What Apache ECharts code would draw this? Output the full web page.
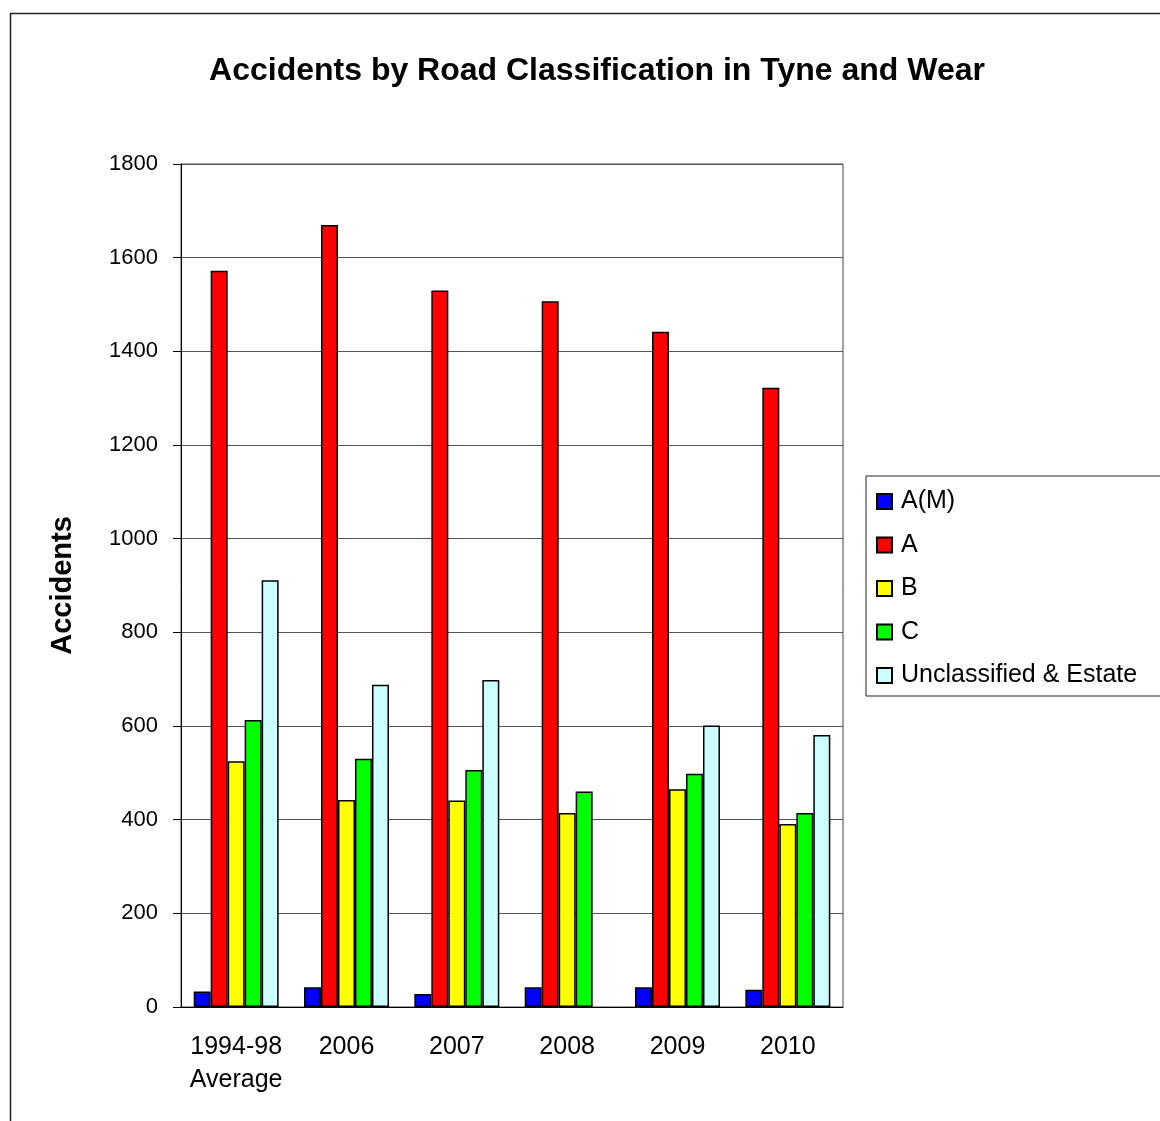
<html><head><meta charset='utf-8'>
<script src='https://cdn.jsdelivr.net/npm/echarts@6/dist/echarts.min.js'></script>
<style>body{margin:0;background:#fff}#chart{width:1160px;height:1121px}</style>
</head><body>
<div id='chart'></div>
<script>
// values
var categories = ['1994-98\nAverage', '2006', '2007', '2008', '2009', '2010']
var seriesNames = ['A(M)', 'A', 'B', 'C', 'Unclassified & Estate']
var valuesAM = [33, 42, 28, 42, 42, 37]
var valuesA = [1572, 1670, 1530, 1507, 1442, 1322]
var valuesB = [525, 442, 441, 414, 465, 391]
var valuesC = [613, 530, 506, 460, 498, 414]
var valuesU = [911, 688, 698, '-', 601, 581]
var colors = ['#0000ff', '#ff0000', '#ffff00', '#00ff00', '#ccffff']

var font = 'Liberation Sans, Arial, sans-serif'
var allValues = [valuesAM, valuesA, valuesB, valuesC, valuesU]

var chart = echarts.init(document.getElementById('chart'))
chart.setOption({
  animation: false,
  backgroundColor: '#fff',
  textStyle: { fontFamily: font, color: '#000' },
  title: {
    text: 'Accidents by Road Classification in Tyne and Wear',
    left: 592, top: 50, textAlign: 'center',
    textStyle: { fontFamily: font, fontSize: 32, fontWeight: 'bold', color: '#000' }
  },
  graphic: [{
    // outer chart border, runs off the right and bottom edge
    type: 'rect', left: 8, top: 11, silent: true,
    shape: { width: 1400, height: 1400 },
    style: { fill: 'none', stroke: '#222', lineWidth: 1.5 }
  }],
  legend: {
    orient: 'vertical', left: 866, top: 476,
    data: seriesNames,
    icon: 'rect', itemWidth: 15, itemHeight: 15, itemGap: 18.5,
    padding: [13, 60, 8, 10],
    borderColor: '#222', borderWidth: 1,
    textStyle: { fontFamily: font, fontSize: 25, color: '#000', lineHeight: 21, padding: [0, 0, 0, 4] }
  },
  grid: {
    left: 181, top: 164, width: 662, height: 843,
    show: true, borderColor: '#444', borderWidth: 1
  },
  xAxis: {
    type: 'category', data: categories,
    axisLine: { lineStyle: { color: '#000', width: 1 } },
    axisTick: { length: 8, lineStyle: { color: '#000' } },
    axisLabel: { interval: 0, fontFamily: font, fontSize: 25, color: '#000', margin: 24, lineHeight: 33 }
  },
  yAxis: {
    type: 'value', min: 0, max: 1800, interval: 200,
    name: 'Accidents', nameLocation: 'middle', nameGap: 104,
    nameTextStyle: { fontFamily: font, fontSize: 29, fontWeight: 'bold', color: '#000' },
    axisLine: { show: true, lineStyle: { color: '#000', width: 1 } },
    axisTick: { show: true, length: 8, lineStyle: { color: '#000' } },
    axisLabel: {
      fontFamily: font, fontSize: 22, color: '#000', margin: 23,
      formatter: function (v) { return String(v) }
    },
    splitLine: { lineStyle: { color: '#555', width: 1 } }
  },
  series: seriesNames.map(function (name, i) {
    return {
      name: name, type: 'bar', data: allValues[i],
      barGap: 0, barCategoryGap: '23%',
      itemStyle: { color: colors[i], borderColor: '#000', borderWidth: 1.5 }
    }
  })
})
</script>
</body></html>
